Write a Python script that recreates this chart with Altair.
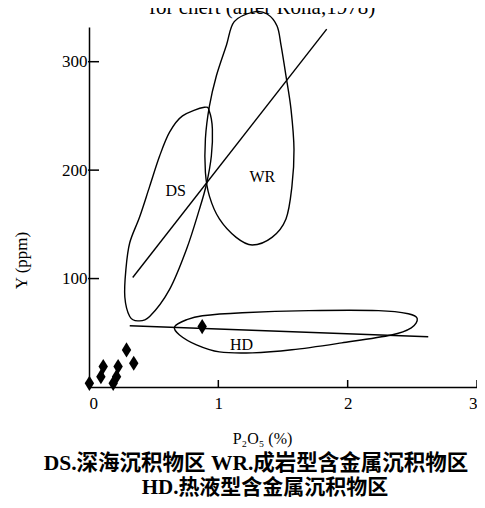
import altair as alt
import pandas as pd

# ---------------- data ----------------
pt_x = [0.003, 0.092, 0.11, 0.187, 0.213, 0.225, 0.29, 0.346, 0.875]
pt_y = [3.4, 9.5, 18.8, 3.4, 9.5, 18.8, 34.2, 21.9, 55.7]

ds_x = [0.892, 0.723, 0.623, 0.546, 0.469, 0.392, 0.315, 0.285, 0.277, 0.315, 0.377,
        0.469, 0.623, 0.754, 0.854, 0.908, 0.946, 0.954, 0.931]
ds_y = [258, 250, 235, 213, 185, 157, 133, 108, 83, 65, 61,
        65, 90, 127, 164, 187, 213, 238, 254]

wr_x = [1.277, 1.123, 1.062, 0.985, 0.931, 0.900, 0.900, 0.931, 1.008, 1.138, 1.262,
        1.415, 1.523, 1.569, 1.585, 1.562, 1.523, 1.485, 1.454, 1.377]
wr_y = [346, 337, 315, 287, 259, 229, 198, 176, 155, 138, 131,
        138, 155, 185, 219, 256, 287, 315, 333, 344]

hd_x = [0.662, 0.754, 0.877, 1.185, 1.700, 2.238, 2.469, 2.538, 2.492, 2.338, 1.954,
        1.569, 1.262, 1.008, 0.831, 0.700]
hd_y = [55.6, 62.0, 65.7, 68.5, 70.4, 70.4, 67.6, 63.0, 54.6, 48.0, 40.7,
        34.3, 31.5, 32.4, 38.9, 48.0]

trend_x = [0.338, 1.838]
trend_y = [101, 330]
hdline_x = [0.315, 2.623]
hdline_y = [56.5, 46.3]

region_labels = ["DS", "WR", "HD"]
label_x = [0.67, 1.34, 1.18]
label_y = [181, 194, 39]

x_ticks = [0, 1, 2, 3]
y_ticks = [100, 200, 300]
x_inner_ticks = [1, 2, 3]

top_title = "for chert (after Rona,1978)"
caption1 = "DS.深海沉积物区 WR.成岩型含金属沉积物区"
caption2 = "HD.热液型含金属沉积物区"

# ---------------- tables ----------------
SERIF = "Liberation Serif, DejaVu Serif, serif"
CAP_FONT = "Liberation Serif, Noto Sans CJK SC, serif"

rows = []
for name, xs, ys in [("DS", ds_x, ds_y), ("WR", wr_x, wr_y), ("HD", hd_x, hd_y)]:
    for i, (a, b) in enumerate(zip(xs, ys)):
        rows.append({"shape": name, "i": i, "x": a, "y": b})
shapes_df = pd.DataFrame(rows)

lines_rows = []
for name, xs, ys in [("trend", trend_x, trend_y), ("hd", hdline_x, hdline_y)]:
    for i, (a, b) in enumerate(zip(xs, ys)):
        lines_rows.append({"line": name, "i": i, "x": a, "y": b})
lines_df = pd.DataFrame(lines_rows)

pts_df = pd.DataFrame({"x": pt_x, "y": pt_y})
lab_df = pd.DataFrame({"label": region_labels, "x": label_x, "y": label_y})
yt_df = pd.DataFrame({"y": y_ticks})
xt_df = pd.DataFrame({"x": x_inner_ticks})

W, H = 388, 360

xscale = alt.Scale(domain=[0, 3], nice=False, zero=False)
yscale = alt.Scale(domain=[0, 332], nice=False, zero=False)

xaxis = alt.Axis(values=x_ticks, ticks=False, tickSize=0, grid=False, labelPadding=8,
                 labelFont=SERIF, labelFontSize=17, labelColor="black",
                 domainColor="black", domainWidth=1.5,
                 title="P₂O₅ (%)", titleFont=SERIF, titleFontSize=16,
                 titleFontWeight="normal", titleColor="black",
                 titleX=173, titleY=43, titleBaseline="top")
yaxis = alt.Axis(values=y_ticks, ticks=False, tickSize=0, grid=False, labelPadding=2,
                 labelFont=SERIF, labelFontSize=17, labelColor="black",
                 domainColor="black", domainWidth=1.5,
                 title="Y (ppm)", titleFont=SERIF, titleFontSize=17,
                 titleFontWeight="normal", titleColor="black",
                 titleX=-59, titleY=233)

X = alt.X("x:Q", scale=xscale, axis=xaxis)
Y = alt.Y("y:Q", scale=yscale, axis=yaxis)

shapes = alt.Chart(shapes_df).mark_line(
    interpolate="cardinal-closed", color="black", strokeWidth=1.4
).encode(x=X, y=Y, detail="shape:N", order="i:Q")

lines = alt.Chart(lines_df).mark_line(color="black", strokeWidth=1.4).encode(
    x=X, y=Y, detail="line:N", order="i:Q")

diamond = "M0,-1L0.62,0L0,1L-0.62,0Z"
points = alt.Chart(pts_df).mark_point(
    shape=diamond, filled=True, color="black", size=230, opacity=1
).encode(x=X, y=Y)

labels = alt.Chart(lab_df).mark_text(
    font=SERIF, fontSize=16, color="black"
).encode(x=X, y=Y, text="label:N")

ytick_rules = alt.Chart(yt_df).mark_rule(color="black", strokeWidth=1.5).encode(
    y=Y, x=alt.value(-1), x2=alt.value(10))
xtick_rules = alt.Chart(xt_df).mark_rule(color="black", strokeWidth=1.5).encode(
    x=X, y=alt.value(H), y2=alt.value(H - 7))

ann_df = pd.DataFrame({"t1": [top_title], "c1": [caption1], "c2": [caption2]})
title_txt = alt.Chart(ann_df).mark_text(
    font=SERIF, fontSize=21, color="black", baseline="alphabetic"
).encode(text="t1:N", x=alt.value(173), y=alt.value(-13))
cap1 = alt.Chart(ann_df).mark_text(
    font=CAP_FONT, fontSize=21.5, fontWeight="bold", color="black", baseline="alphabetic"
).encode(text="c1:N", x=alt.value(167), y=alt.value(443))
cap2 = alt.Chart(ann_df).mark_text(
    font=CAP_FONT, fontSize=21, fontWeight="bold", color="black", baseline="alphabetic"
).encode(text="c2:N", x=alt.value(176), y=alt.value(467))

chart = alt.layer(
    shapes, lines, ytick_rules, xtick_rules, points, labels, title_txt, cap1, cap2
).properties(
    width=W, height=H,
    autosize=alt.AutoSizeParams(type="none"),
    padding={"left": 81, "top": 19, "right": 0, "bottom": 113},
).configure_view(stroke=None)

chart.save("out.html", embed_options={"renderer": "svg", "actions": False})
